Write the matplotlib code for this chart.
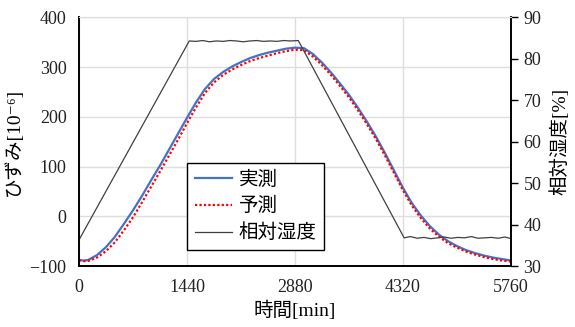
import matplotlib
matplotlib.use('Agg')
import matplotlib.pyplot as plt

plt.rcParams['font.family'] = ['Liberation Serif', 'Noto Sans CJK JP', 'DejaVu Sans']

# time axis [min] shared by both strain series
time_min = [0, 60, 120, 240, 360, 480, 600, 720, 840, 960, 1080, 1200, 1320, 1440,
            1560, 1680, 1800, 1920, 2040, 2160, 2280, 2400, 2520, 2640, 2760, 2880,
            3000, 3120, 3240, 3360, 3480, 3600, 3720, 3840, 3960, 4080, 4200, 4320,
            4440, 4560, 4680, 4800, 4920, 5040, 5160, 5280, 5400, 5520, 5640, 5760]

# measured strain [1e-6]
strain_meas = [-88, -89, -88, -78, -62, -41, -15, 12, 41, 72, 102, 134, 166, 198,
               229, 256, 276, 290, 301, 310, 318, 324, 329, 333, 337, 339,
               338, 326, 309, 289, 267, 244, 218, 190, 160, 127, 92, 57,
               26, 1, -20, -37, -50, -60, -68, -74, -79, -83, -86, -89]

# predicted strain [1e-6]
strain_pred = [-88, -90, -90, -83, -70, -52, -28, -2, 28, 59, 90, 122, 154, 187,
               219, 248, 269, 284, 295, 304, 312, 318, 323, 328, 332, 335,
               334, 321, 304, 284, 262, 239, 213, 185, 155, 122, 87, 52,
               21, -4, -25, -41, -54, -63, -71, -77, -82, -86, -89, -91]

# relative humidity [%]
hum_t = [0, 1470, 1560, 1650, 1740, 1830, 1920, 2010, 2100, 2190, 2280, 2370, 2460,
         2550, 2640, 2730, 2820, 2924, 4335, 4420, 4510, 4600, 4690, 4780, 4870,
         4960, 5050, 5140, 5230, 5320, 5410, 5500, 5590, 5680, 5760]
hum_rh = [36.3, 84.3, 84.2, 84.4, 84.1, 84.3, 84.2, 84.4, 84.3, 84.1, 84.3, 84.4, 84.2,
          84.3, 84.2, 84.4, 84.3, 84.4, 36.8, 37.1, 36.7, 36.9, 36.6, 36.8, 37.0,
          36.7, 36.9, 36.8, 37.1, 36.7, 36.8, 36.9, 36.7, 37.0, 36.6]

x_ticks = [0, 1440, 2880, 4320, 5760]

fig = plt.figure(figsize=(5.75, 3.27), dpi=100)
ax = fig.add_axes([0.1374, 0.1865, 0.8887 - 0.1374, 0.947 - 0.1865])
ax2 = ax.twinx()

l1, = ax.plot(time_min, strain_meas, color='#4472C4', lw=1.6, label='実測')
l2, = ax.plot(time_min, strain_pred, color='#FF0000', lw=1.6, ls=(0, (1, 1)), label='予測')
l3, = ax2.plot(hum_t, hum_rh, color='#404040', lw=0.9, label='相対湿度')

ax.set_xlim(0, 5760)
ax.set_ylim(-100, 400)
ax2.set_ylim(30, 90)
ax.set_xticks(x_ticks)
ax.set_yticks(range(-100, 401, 100))
ax2.set_yticks(range(30, 91, 10))

ax.grid(True, color='#dedede', lw=1)
ax.set_axisbelow(True)
ax.tick_params(axis='both', length=0, labelsize=13, pad=9, labelcolor='#222222')
ax2.tick_params(axis='y', length=5, width=1, labelsize=13, pad=4, direction='out',
                labelcolor='#222222')

for a in (ax, ax2):
    for side in ('left', 'right', 'bottom'):
        a.spines[side].set_color('black')
        a.spines[side].set_linewidth(1.2)
    a.spines['top'].set_color('#dedede')

ax.set_ylabel('ひずみ[10\u207b\u2076]', fontsize=14, labelpad=5)
ax.set_xlabel('時間[min]', fontsize=14, labelpad=4)
ax2.set_ylabel('相対湿度[%]', fontsize=14, labelpad=6)

leg = ax2.legend(handles=[l1, l2, l3], loc='lower left', bbox_to_anchor=(0.25, 0.064),
                 fontsize=14, frameon=True, fancybox=False, framealpha=1,
                 edgecolor='black', handlelength=1.9, handletextpad=0.35,
                 labelspacing=0.42, borderpad=0.4, borderaxespad=0)
leg.get_frame().set_linewidth(1.0)

fig.savefig('out.png', dpi=100)
